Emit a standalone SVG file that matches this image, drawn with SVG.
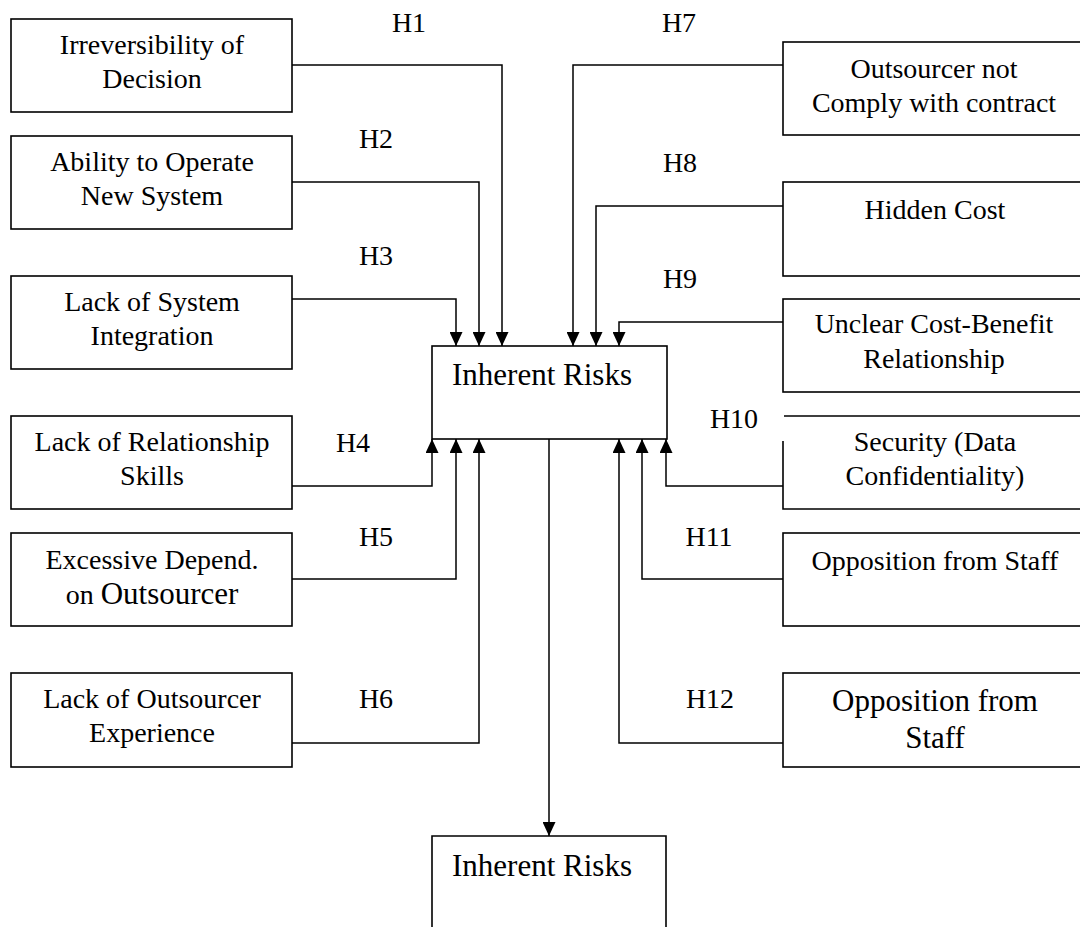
<svg xmlns="http://www.w3.org/2000/svg" width="1080" height="927" viewBox="0 0 1080 927">
  <style>
    .box { fill: #fff; stroke: #000; stroke-width: 1.6; }
    .wire { fill: none; stroke: #000; stroke-width: 1.5; }
    text { font-family: "Liberation Serif", "Times New Roman", serif; font-size: 28px; fill: #000; text-anchor: middle; }
    .big { font-size: 31px; }
  </style>
  <defs>
    <marker id="arrow" markerUnits="userSpaceOnUse" markerWidth="14" markerHeight="13" refX="14" refY="6.5" orient="auto">
      <path d="M0,0 L14,6.5 L0,13 Z" fill="#000"/>
    </marker>
  </defs>
  <rect width="1080" height="927" fill="#fff"/>

  <!-- connectors -->
  <g id="connectors" class="wire" marker-end="url(#arrow)">
    <path d="M292,65 H502 V346"/>
    <path d="M292,182 H479 V346"/>
    <path d="M292,299 H456 V346"/>
    <path d="M292,486 H432 V439"/>
    <path d="M292,579 H456 V439"/>
    <path d="M292,743 H479 V439"/>
    <path d="M783,65 H573 V346"/>
    <path d="M783,206 H596 V346"/>
    <path d="M783,322 H619 V346"/>
    <path d="M783,486 H666 V439"/>
    <path d="M783,579 H642 V439"/>
    <path d="M783,743 H619 V439"/>
    <path d="M549,439 V836"/>
  </g>

  <!-- hypothesis labels -->
  <g id="labels">
    <text x="409" y="32">H1</text>
    <text x="376" y="148">H2</text>
    <text x="376" y="265">H3</text>
    <text x="353" y="452">H4</text>
    <text x="376" y="546">H5</text>
    <text x="376" y="708">H6</text>
    <text x="679" y="32">H7</text>
    <text x="680" y="172">H8</text>
    <text x="680" y="288">H9</text>
    <text x="734" y="428">H10</text>
    <text x="709" y="546">H11</text>
    <text x="710" y="708">H12</text>
  </g>

  <!-- left factors -->
  <g id="irreversibility">
    <rect class="box" x="11" y="19" width="281" height="93"/>
    <text x="152" y="54">Irreversibility of</text>
    <text x="152" y="88">Decision</text>
  </g>
  <g id="ability">
    <rect class="box" x="11" y="136" width="281" height="93"/>
    <text x="152" y="171">Ability to Operate</text>
    <text x="152" y="205">New System</text>
  </g>
  <g id="integration">
    <rect class="box" x="11" y="276" width="281" height="93"/>
    <text x="152" y="311">Lack of System</text>
    <text x="152" y="345">Integration</text>
  </g>
  <g id="relationship">
    <rect class="box" x="11" y="416" width="281" height="93"/>
    <text x="152" y="451">Lack of Relationship</text>
    <text x="152" y="485">Skills</text>
  </g>
  <g id="dependence">
    <rect class="box" x="11" y="533" width="281" height="93"/>
    <text x="152" y="569">Excessive Depend.</text>
    <text x="152" y="604"><tspan>on </tspan><tspan class="big">Outsourcer</tspan></text>
  </g>
  <g id="experience">
    <rect class="box" x="11" y="673" width="281" height="94"/>
    <text x="152" y="708">Lack of Outsourcer</text>
    <text x="152" y="742">Experience</text>
  </g>

  <!-- central construct -->
  <g id="inherent-risks">
    <rect class="box" x="432" y="346" width="235" height="93"/>
    <text class="big" x="542" y="385">Inherent Risks</text>
  </g>

  <!-- outcome construct -->
  <g id="inherent-risks-outcome">
    <path class="box" d="M432,940 V836 H666 V940"/>
    <text class="big" x="542" y="876">Inherent Risks</text>
  </g>

  <!-- right factors -->
  <g id="contract">
    <rect class="box" x="783" y="42" width="302" height="93"/>
    <text x="934" y="78">Outsourcer not</text>
    <text x="934" y="112">Comply with contract</text>
  </g>
  <g id="hidden-cost">
    <rect class="box" x="783" y="182" width="302" height="94"/>
    <text x="935" y="219">Hidden Cost</text>
  </g>
  <g id="cost-benefit">
    <rect class="box" x="783" y="299" width="302" height="93"/>
    <text x="934" y="333">Unclear Cost-Benefit</text>
    <text x="934" y="368">Relationship</text>
  </g>
  <g id="security">
    <path class="box" d="M784,416 H1085 V509 H783 V441"/>
    <text x="935" y="451">Security (Data</text>
    <text x="935" y="485">Confidentiality)</text>
  </g>
  <g id="opposition-1">
    <rect class="box" x="783" y="533" width="302" height="93"/>
    <text x="935" y="570">Opposition from Staff</text>
  </g>
  <g id="opposition-2">
    <rect class="box" x="783" y="673" width="302" height="94"/>
    <text class="big" x="935" y="711">Opposition from</text>
    <text class="big" x="935" y="748">Staff</text>
  </g>
</svg>
